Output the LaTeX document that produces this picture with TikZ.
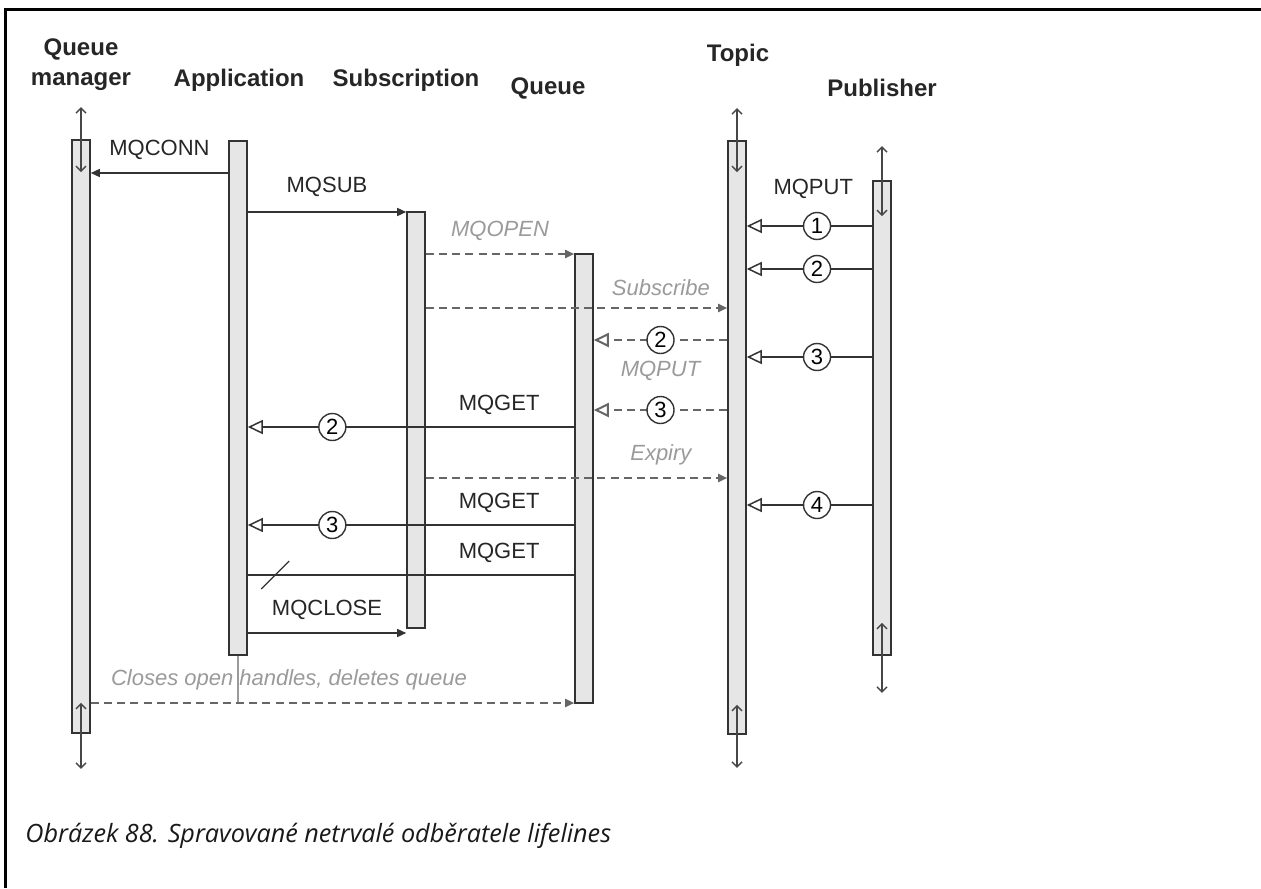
\documentclass[tikz,border=0pt]{standalone}
\usepackage{fontspec}
\setmainfont{Liberation Sans}
\newfontfamily\capfont{Open Sans}
\usetikzlibrary{arrows.meta, fit, positioning}
\definecolor{barfill}{HTML}{E6E6E6}
\definecolor{linegray}{HTML}{333333}
\definecolor{dashgray}{HTML}{666666}
\definecolor{labgray}{HTML}{9A9A9A}
\tikzset{
  bar/.style={
    rectangle, draw=linegray, fill=barfill,
    line width=0.8pt, inner sep=0pt
  },
  head/.style={font=\fontsize{12}{15}\selectfont\bfseries, align=center, text=black!85},
  msg/.style={font=\fontsize{11}{13}\selectfont, text=black!85},
  imsg/.style={font=\fontsize{11}{13}\selectfont\itshape, text=labgray},
  call/.style={draw=linegray, line width=0.75pt, -{Triangle[length=4.5pt,width=4pt]}},
  async/.style={draw=linegray, line width=0.75pt, -{Triangle[open,length=7.5pt,width=7pt,fill=white]}},
  dcall/.style={draw=dashgray, line width=1pt, dash pattern=on 4pt off 2.6pt, -{Triangle[length=4.5pt,width=4pt]}},
  dasync/.style={draw=dashgray, line width=1pt, dash pattern=on 4pt off 2.6pt, -{Triangle[open,length=7.5pt,width=7pt,fill=white]}},
  life/.style={draw=linegray!90, line width=0.7pt, {Straight Barb[length=2.5pt,width=5pt]}-{Straight Barb[length=2.5pt,width=5pt]}}
}

\begin{document}
\begin{tikzpicture}[
    x=0.5pt, y=-0.5pt,
    numc/.style={circle, draw=linegray, solid, fill=white, line width=0.7pt,
                 inner sep=0pt, minimum size=13.5pt, font=\fontsize{11}{13}\selectfont}
  ]
  \useasboundingbox (0,0) rectangle (1261,888);
  \draw[line width=1.5pt] (5,888) -- (5,10) -- (1261,10);

  % lifelines
  \node[head] (hqm)    at (81,65)  {Queue\\manager};
  \node[head] (happ)   at (239,80) {Application};
  \node[head] (hsub)   at (406,80) {Subscription};
  \node[head] (hqueue) at (548,88) {Queue};
  \node[head] (htopic) at (738,55) {Topic};
  \node[head] (hpub)   at (882,88) {Publisher};

  \node[bar, fit={(72,140) (90,733)}]   (qm)    {};
  \node[bar, fit={(229,141) (247,655)}] (app)   {};
  \node[bar, fit={(407,212) (425,628)}] (sub)   {};
  \node[bar, fit={(575,254) (593,703)}] (queue) {};
  \node[bar, fit={(728,141) (746,734)}] (topic) {};
  \node[bar, fit={(873,181) (891,655)}] (pub)   {};

  \draw[life] ([yshift=16pt]qm.north)    -- ([yshift=-16.5pt]qm.north);
  \draw[life] ([yshift=16pt]topic.north) -- ([yshift=-16pt]topic.north);
  \draw[life] ([yshift=17pt]pub.north)   -- ([yshift=-18pt]pub.north);
  \draw[life] ([yshift=15.5pt]qm.south)    -- ([yshift=-17.5pt]qm.south);
  \draw[life] ([yshift=15pt]topic.south) -- ([yshift=-16.5pt]topic.south);
  \draw[life] ([yshift=16.5pt]pub.south)   -- ([yshift=-18.5pt]pub.south);

  % message rows
  \coordinate (yconn)   at (0,173);
  \coordinate (ysub)    at (0,212);
  \coordinate (yput1)   at (0,226);
  \coordinate (yopen)   at (0,254);
  \coordinate (yput2)   at (0,269);
  \coordinate (yscr)    at (0,308);
  \coordinate (yfwd2)   at (0,340);
  \coordinate (yput3)   at (0,357);
  \coordinate (yfwd3)   at (0,410);
  \coordinate (yget2)   at (0,427);
  \coordinate (yexp)    at (0,478);
  \coordinate (yput4)   at (0,505);
  \coordinate (yget3)   at (0,525);
  \coordinate (ylost)   at (0,575);
  \coordinate (yclose)  at (0,633);
  \coordinate (yend)    at (0,703);

  \draw[call] (app.west |- yconn) -- node[msg, above=3pt] {MQCONN} (qm.east |- yconn);
  \draw[call] (app.east |- ysub)  -- node[msg, above=4pt] {MQSUB} (sub.west |- ysub);
  \draw[dcall] (sub.east |- yopen) -- node[imsg, above=3pt] {MQOPEN} (queue.west |- yopen);
  \draw[dcall] (sub.east |- yscr)  -- node[imsg, above=2.5pt, pos=0.78] {Subscribe} (topic.west |- yscr);

  \draw[async] (pub.west |- yput1) -- node[numc, pos=0.44] {1}
    node[msg, pos=0.47, above=10pt] {MQPUT} (topic.east |- yput1);
  \draw[async] (pub.west |- yput2) -- node[numc, pos=0.44] {2} (topic.east |- yput2);
  \draw[async] (pub.west |- yput3) -- node[numc, pos=0.44] {3} (topic.east |- yput3);
  \draw[async] (pub.west |- yput4) -- node[numc, pos=0.44] {4} (topic.east |- yput4);

  \draw[dasync] (topic.west |- yfwd2) -- node[numc] {2} (queue.east |- yfwd2);
  \draw[dasync] (topic.west |- yfwd3) -- node[numc] {3}
    node[imsg, above=11pt] {MQPUT} (queue.east |- yfwd3);

  \draw[async] (queue.west |- yget2) -- node[numc, pos=0.741] {2}
    node[msg, pos=0.23, above=2.5pt] {MQGET} (app.east |- yget2);
  \draw[dcall] (sub.east |- yexp) -- node[imsg, above=2.5pt, pos=0.78] {Expiry} (topic.west |- yexp);
  \draw[async] (queue.west |- yget3) -- node[numc, pos=0.741] {3}
    node[msg, pos=0.23, above=2.5pt] {MQGET} (app.east |- yget3);
  \draw[draw=linegray, line width=0.75pt] (queue.west |- ylost) --
    node[msg, pos=0.23, above=2.5pt] {MQGET} coordinate[pos=0.916] (lost) (app.east |- ylost);
  \draw[draw=linegray, line width=0.6pt] ([shift={(-7pt,-7pt)}]lost) -- ([shift={(7pt,7pt)}]lost);
  \draw[call] (app.east |- yclose) -- node[msg, above=3pt] {MQCLOSE} (sub.west |- yclose);

  \draw[draw=labgray, line width=1pt] (app.south) -- (app.south |- yend);
  \draw[dcall] (qm.east |- yend) -- node[imsg, above=2.5pt, pos=0.41] {Closes open handles, deletes queue} (queue.west |- yend);

  \node[anchor=west, inner sep=0pt, text=black!90, font={\capfont\itshape\fontsize{12.6}{15}\selectfont}] (caption)
    at (25,836) {Obrázek 88. Spravované netrvalé odběratele lifelines};
\end{tikzpicture}
\end{document}
